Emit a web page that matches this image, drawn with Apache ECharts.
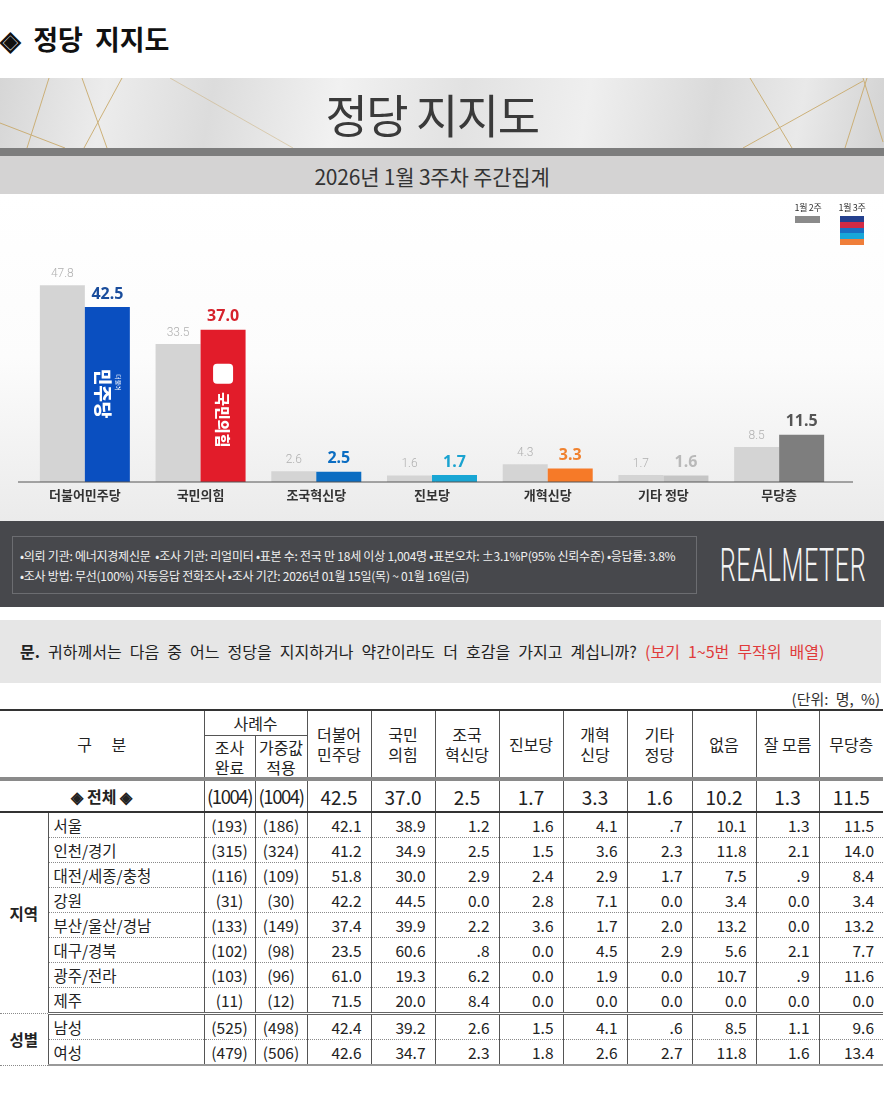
<!DOCTYPE html>
<html><head><meta charset="utf-8">
<script src="https://cdn.jsdelivr.net/npm/echarts@6/dist/echarts.min.js"></script>
<style>
html,body{margin:0;padding:0;background:#fff;}
body{width:889px;height:1100px;position:relative;overflow:hidden;font-family:"Noto Sans CJK KR","Noto Sans",sans-serif;color:#222;}
.abs{position:absolute;}
#title{left:0;top:20px;font-size:27px;font-weight:700;line-height:38px;color:#111;word-spacing:6px;}
#banner{left:0;top:78px;width:884px;height:70px;overflow:hidden;
 background:linear-gradient(100deg,#d6d6d6 0%,#ececec 12%,#dcdcdc 24%,#f1f1f1 38%,#e2e2e2 52%,#efefef 66%,#dadada 80%,#e9e9e9 90%,#d2d2d2 100%);}
#banner svg{position:absolute;left:0;top:0;}
#bannerTitle{position:absolute;left:0;top:0;width:864px;height:70px;text-align:center;line-height:70px;font-size:46px;color:#3a3a3a;letter-spacing:-1.5px;font-weight:400;}
#stripe{left:0;top:148px;width:884px;height:8px;background:#7d7d7d;}
#subband{left:0;top:156px;width:864px;height:38px;background:transparent;text-align:center;line-height:40px;font-size:21px;color:#333;letter-spacing:-0.2px;}
#subbg{left:0;top:156px;width:884px;height:38px;background:#d4d3d3;}
#chart{left:0;top:194px;width:884px;height:327px;background:linear-gradient(#ffffff 0%,#fcfcfc 50%,#ebebeb 100%);}
.lgT{font-size:9px;color:#333;line-height:12px;width:40px;text-align:center;letter-spacing:-0.3px;}
#info{left:0;top:521px;width:884px;height:86px;background:#47484c;}
#infoBox{position:absolute;left:12px;top:15px;width:685px;height:58px;border:1px solid #6c6d71;color:#f0f0f0;font-size:12px;line-height:20px;padding:9px 0 0 7px;box-sizing:border-box;letter-spacing:-0.25px;white-space:nowrap;}
#logo{position:absolute;left:643px;top:20px;width:300px;height:48px;text-align:center;line-height:48px;color:#f4f4f4;font-family:Roboto,"Noto Sans",sans-serif;font-weight:300;font-size:46px;transform:scaleX(0.55);transform-origin:center;letter-spacing:1px;}
#question{left:0;top:620px;width:881px;height:63px;background:#e6e6e6;font-size:16px;line-height:63px;padding-left:20px;box-sizing:border-box;color:#222;word-spacing:4.5px;white-space:nowrap;}
#question b{font-weight:700;}
#question span{color:#e03a3a;}
#unit{right:9px;top:689px;font-size:15px;line-height:20px;color:#333;word-spacing:4px;}
#tbl{left:0;top:709px;width:883px;border-collapse:collapse;table-layout:fixed;font-size:15.5px;color:#222;}
#tbl td,#tbl th{padding:0;font-weight:400;overflow:hidden;white-space:nowrap;}
#tbl th{border-left:1px solid #555;text-align:center;line-height:20px;font-size:16px;}
#tbl tr.h1 th{height:24px;border-top:2px solid #333;}
#tbl tr.h2 th{height:41px;border-top:1px solid #555;}
#tbl tr.h1 th.first{border-left:none;}
#tbl tr.tot td{height:30px;border-top:4px solid #8a8a8a;border-bottom:2px solid #333;border-left:1px solid #555;text-align:center;font-size:19px;}
#tbl tr.tot td.first{border-left:none;font-size:16px;font-weight:700;}
#tbl tr.tot td.cnt{letter-spacing:-1.4px;font-size:18.5px;}
#tbl tr.d td{height:24px;border-bottom:1px dotted #8a8a8a;border-left:1px solid #555;}
#tbl td.grp{border-left:none !important;text-align:center;font-weight:700;font-size:15.5px;border-bottom:none;}
#tbl td.lbl{text-align:left;padding-left:5px;font-size:15.5px;}
#tbl td.cnt{text-align:center;}
#tbl td.val{text-align:right;padding-right:9px;}
#tbl tr.sep td{border-bottom:3px double #666 !important;}
#tbl tr.last td{border-bottom:2px solid #999;}
</style>
</head>
<body>
<div id="title" class="abs">◈ 정당 지지도</div>
<div id="banner" class="abs">
 <svg width="884" height="70">
  <g stroke="#c9aa6c" stroke-width="1" fill="none" opacity="0.9">
   <line x1="49" y1="0" x2="27" y2="70"/>
   <line x1="82" y1="0" x2="107" y2="70"/>
   <line x1="122" y1="0" x2="84" y2="70"/>
   <line x1="0" y1="45" x2="65" y2="70"/>
   <line x1="170" y1="0" x2="293" y2="70" opacity="0.5"/>
   <line x1="750" y1="0" x2="792" y2="70"/>
   <line x1="743" y1="70" x2="863" y2="3"/>
   <line x1="867" y1="0" x2="845" y2="70"/>
   <line x1="863" y1="0" x2="883" y2="64"/>
  </g>
 </svg>
 <div id="bannerTitle">정당 지지도</div>
</div>
<div id="stripe" class="abs"></div>
<div id="subbg" class="abs"></div>
<div id="subband" class="abs">2026년 1월 3주차 주간집계</div>
<div id="chart" class="abs"></div>
<div class="abs lgT" style="left:788px;top:202px;">1월 2주</div>
<div class="abs" style="left:795px;top:216px;width:25px;height:7px;background:#8a8a8a;"></div>
<div class="abs lgT" style="left:832px;top:202px;">1월 3주</div>
<div class="abs" style="left:840px;top:216px;width:24px;height:29px;background:linear-gradient(#24408e 0,#24408e 6px,#d22a44 6px,#d22a44 12px,#1a6fc2 12px,#1a6fc2 17px,#19a6d8 17px,#19a6d8 23px,#ef7e3a 23px,#ef7e3a 29px);"></div>
<div id="info" class="abs">
 <div id="infoBox">•의뢰 기관: 에너지경제신문 &nbsp;•조사 기관: 리얼미터 •표본 수: 전국 만 18세 이상 1,004명 •표본오차: ±3.1%P(95% 신뢰수준) •응답률: 3.8%<br>•조사 방법: 무선(100%) 자동응답 전화조사 •조사 기간: 2026년 01월 15일(목) ~ 01월 16일(금)</div>
 <div id="logo">REALMETER</div>
</div>
<div id="question" class="abs"><b>문.</b> 귀하께서는 다음 중 어느 정당을 지지하거나 약간이라도 더 호감을 가지고 계십니까? <span>(보기 1~5번 무작위 배열)</span></div>
<div id="unit" class="abs">(단위: 명, %)</div>
<table id="tbl" class="abs"></table>
<script>
// ---- chart data ----
const categories = ['더불어민주당','국민의힘','조국혁신당','진보당','개혁신당','기타 정당','무당층'];
const prevWeek = [47.8, 33.5, 2.6, 1.6, 4.3, 1.7, 8.5];
const curWeek  = [42.5, 37.0, 2.5, 1.7, 3.3, 1.6, 11.5];
const seriesNames = ['1월 2주','1월 3주'];

// ---- table data ----
const tableCols = ['더불어\n민주당','국민\n의힘','조국\n혁신당','진보당','개혁\n신당','기타\n정당','없음','잘 모름','무당층'];
const totalLabel = '◈ 전체 ◈';
const totalCounts = ['(1004)','(1004)'];
const totalValues = ['42.5','37.0','2.5','1.7','3.3','1.6','10.2','1.3','11.5'];
const regionLabels = ['서울','인천/경기','대전/세종/충청','강원','부산/울산/경남','대구/경북','광주/전라','제주'];
const regionCounts = [['(193)','(186)'],['(315)','(324)'],['(116)','(109)'],['(31)','(30)'],['(133)','(149)'],['(102)','(98)'],['(103)','(96)'],['(11)','(12)']];
const regionValues = [
 ['42.1','38.9','1.2','1.6','4.1','.7','10.1','1.3','11.5'],
 ['41.2','34.9','2.5','1.5','3.6','2.3','11.8','2.1','14.0'],
 ['51.8','30.0','2.9','2.4','2.9','1.7','7.5','.9','8.4'],
 ['42.2','44.5','0.0','2.8','7.1','0.0','3.4','0.0','3.4'],
 ['37.4','39.9','2.2','3.6','1.7','2.0','13.2','0.0','13.2'],
 ['23.5','60.6','.8','0.0','4.5','2.9','5.6','2.1','7.7'],
 ['61.0','19.3','6.2','0.0','1.9','0.0','10.7','.9','11.6'],
 ['71.5','20.0','8.4','0.0','0.0','0.0','0.0','0.0','0.0']
];
const genderLabels = ['남성','여성'];
const genderCounts = [['(525)','(498)'],['(479)','(506)']];
const genderValues = [
 ['42.4','39.2','2.6','1.5','4.1','.6','8.5','1.1','9.6'],
 ['42.6','34.7','2.3','1.8','2.6','2.7','11.8','1.6','13.4']
];

// ---- build table ----
(function(){
 const widths=[48,156,51,52,64,64,64,64,64,65,64,63,64];
 let h='<colgroup>'+widths.map(w=>'<col style="width:'+w+'px">').join('')+'</colgroup>';
 h+='<tr class="h1"><th class="first" colspan="2" rowspan="2" style="word-spacing:16px">구 분</th><th colspan="2">사례수</th>';
 tableCols.forEach(c=>{h+='<th rowspan="2">'+c.replace('\n','<br>')+'</th>';});
 h+='</tr><tr class="h2"><th>조사<br>완료</th><th>가중값<br>적용</th></tr>';
 h+='<tr class="tot"><td class="first" colspan="2">'+totalLabel+'</td>'+totalCounts.map(c=>'<td class="cnt">'+c+'</td>').join('')+totalValues.map(v=>'<td>'+v+'</td>').join('')+'</tr>';
 function rows(group,labels,counts,vals,extraLastClass){
  let s='';
  labels.forEach((l,i)=>{
   const cls='d'+(i===labels.length-1?' '+extraLastClass:'');
   s+='<tr class="'+cls+'">';
   if(i===0) s+='<td class="grp" rowspan="'+labels.length+'">'+group+'</td>';
   s+='<td class="lbl">'+l+'</td>'+counts[i].map(c=>'<td class="cnt">'+c+'</td>').join('')+vals[i].map(v=>'<td class="val">'+v+'</td>').join('')+'</tr>';
  });
  return s;
 }
 h+=rows('지역',regionLabels,regionCounts,regionValues,'sep');
 h+=rows('성별',genderLabels,genderCounts,genderValues,'last');
 document.getElementById('tbl').innerHTML=h;
})();

// ---- chart ----
const BAR_W = 45;
const curColors = ['#0a4fc0','#e21c2a','#0b6dc2','#19a6d4','#f67a28','#c5c5c5','#7e7e7e'];
const curLabelColors = ['#1a4d9c','#d6222c','#0b6dc2','#1aa3d0','#f0822f','#b9b9b9','#555555'];
const chart = echarts.init(document.getElementById('chart'), null, {renderer:'canvas'});
chart.setOption({
 animation:false,
 grid:{left:27,right:47,top:41,bottom:39},
 xAxis:{type:'category',data:categories,axisLine:{show:false},axisTick:{show:false},
  axisLabel:{margin:7,fontSize:13,fontWeight:'bold',color:'#333',fontFamily:'"Noto Sans CJK KR"'}},
 yAxis:{type:'value',min:0,max:60,show:false,splitLine:{show:false}},
 series:[
  {name:seriesNames[0],type:'bar',barWidth:BAR_W,barGap:'0%',data:prevWeek,
   itemStyle:{color:'#d4d4d4'},
   label:{show:true,position:'top',distance:5,fontSize:12,color:'#b0b0b0',fontFamily:'Roboto',fontWeight:300}},
  {name:seriesNames[1],type:'bar',barWidth:BAR_W,barGap:'0%',
   data:curWeek.map((v,i)=>({value:v,itemStyle:{color:curColors[i]},label:{color:curLabelColors[i]}})),
   label:{show:true,position:'top',distance:5,fontSize:16,fontWeight:'bold',fontFamily:'"Noto Sans"',formatter:p=>Number(p.value).toFixed(1)}}
 ]
});

// decorations positioned from the library's own scales
function barRect(i){
 const base = chart.convertToPixel({gridIndex:0},[i,0]);
 const top = chart.convertToPixel({gridIndex:0},[i,curWeek[i]]);
 // current-week bar sits to the right of the category centre (barGap 0)
 return {cx: base[0] + BAR_W/2, top: top[1], base: base[1]};
}
(function(){
 let g=[];
 try{
  const b0 = barRect(0), b1 = barRect(1);
  const axisY = b0.base;
  const m0 = (b0.top + b0.base)/2, m1 = (b1.top + b1.base)/2;
  const rot = -Math.PI/2;
  g = [
   {type:'line',z:100,shape:{x1:18,y1:axisY,x2:853,y2:axisY},style:{stroke:'#555',lineWidth:1}},
   {type:'text',z:100,x:b0.cx-5,y:m0-1,rotation:rot,style:{text:'민주당',fill:'#fff',fontSize:18,fontWeight:900,fontFamily:'"Noto Sans CJK KR"',align:'center',verticalAlign:'middle'}},
   {type:'text',z:100,x:b0.cx+11,y:m0-12,rotation:rot,style:{text:'더불어',fill:'#fff',fontSize:6,fontFamily:'"Noto Sans CJK KR"',align:'center',verticalAlign:'middle'}},
   {type:'rect',z:100,x:b1.cx,y:m1-32,shape:{x:-10,y:-10,width:20,height:20,r:4},style:{fill:'#fff'}},
   {type:'text',z:100,x:b1.cx,y:m1+14,rotation:rot,style:{text:'국민의힘',fill:'#fff',fontSize:15,fontWeight:900,fontFamily:'"Noto Sans CJK KR"',align:'center',verticalAlign:'middle'}}
  ];
 }catch(e){ document.title = 'ERR ' + e.message; }
 chart.setOption({graphic:{elements:g}});
})();
</script>
</body></html>
